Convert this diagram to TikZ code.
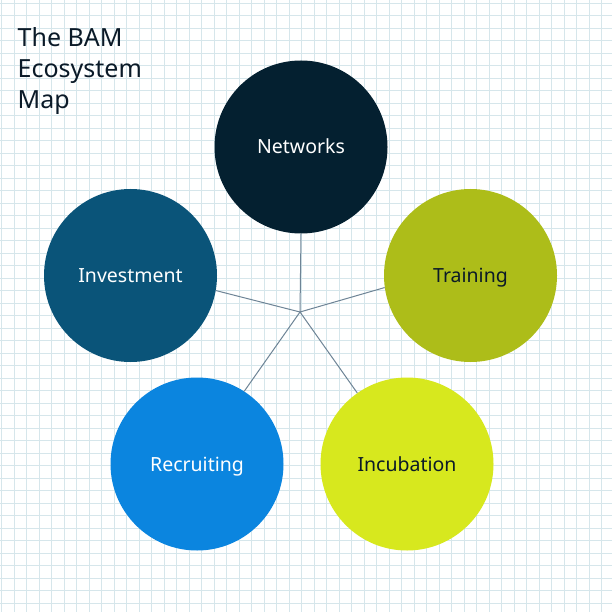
\documentclass[tikz,border=0pt]{standalone}
\usepackage{fontspec}
\setmainfont{Noto Sans}
\definecolor{gridblue}{RGB}{214,230,235}
\definecolor{inkdark}{RGB}{11,26,40}
\definecolor{spokegray}{RGB}{110,132,150}
\definecolor{netnavy}{RGB}{4,32,48}
\definecolor{investblue}{RGB}{10,84,121}
\definecolor{trainolive}{RGB}{173,189,25}
\definecolor{recruitblue}{RGB}{11,133,223}
\definecolor{incublime}{RGB}{215,232,30}
\tikzstyle{gridline}=[draw=gridblue,line width=.8pt]
\tikzstyle{spoke}=[draw=spokegray,line width=1pt]
\tikzstyle{hubcircle}=[circle,minimum size=173pt,inner sep=0pt,text height=14pt,text depth=0pt,font=\fontsize{19.5}{22}\selectfont]

\begin{document}
\begin{tikzpicture}[x=1pt,y=-1pt]
	\useasboundingbox (0,0) rectangle (612,612);
	\fill[white] (0,0) rectangle (612,612);
	\foreach \i in {0,...,48} {
		\draw[gridline] ({1.5+12.5*\i},0) -- ({1.5+12.5*\i},612);
		\draw[gridline] (0,{3.3+12.5*\i}) -- (612,{3.3+12.5*\i});
	}
	\node[anchor=base west,inner sep=0pt,align=left,text=inkdark,font=\fontsize{25}{31}\selectfont] (title) at (17.5,108.7) {The BAM\\Ecosystem\\Map};
	\coordinate (hub) at (300,312);
	\node[hubcircle,fill=netnavy,text=white] (net) at (301,147) {Networks};
	\node[hubcircle,fill=trainolive,text=inkdark] (train) at (470.5,275.5) {Training};
	\node[hubcircle,fill=incublime,text=inkdark] (incub) at (407,464) {Incubation};
	\node[hubcircle,fill=recruitblue,text=white] (recruit) at (197,464) {Recruiting};
	\node[hubcircle,fill=investblue,text=white] (invest) at (130.5,275.5) {Investment};
	\draw[spoke] (hub) -- (net.270);
	\draw[spoke] (hub) -- (train.188.5);
	\draw[spoke] (hub) -- (incub.125.5);
	\draw[spoke] (hub) -- (recruit.57);
	\draw[spoke] (hub) -- (invest.350.6);
\end{tikzpicture}
\end{document}
